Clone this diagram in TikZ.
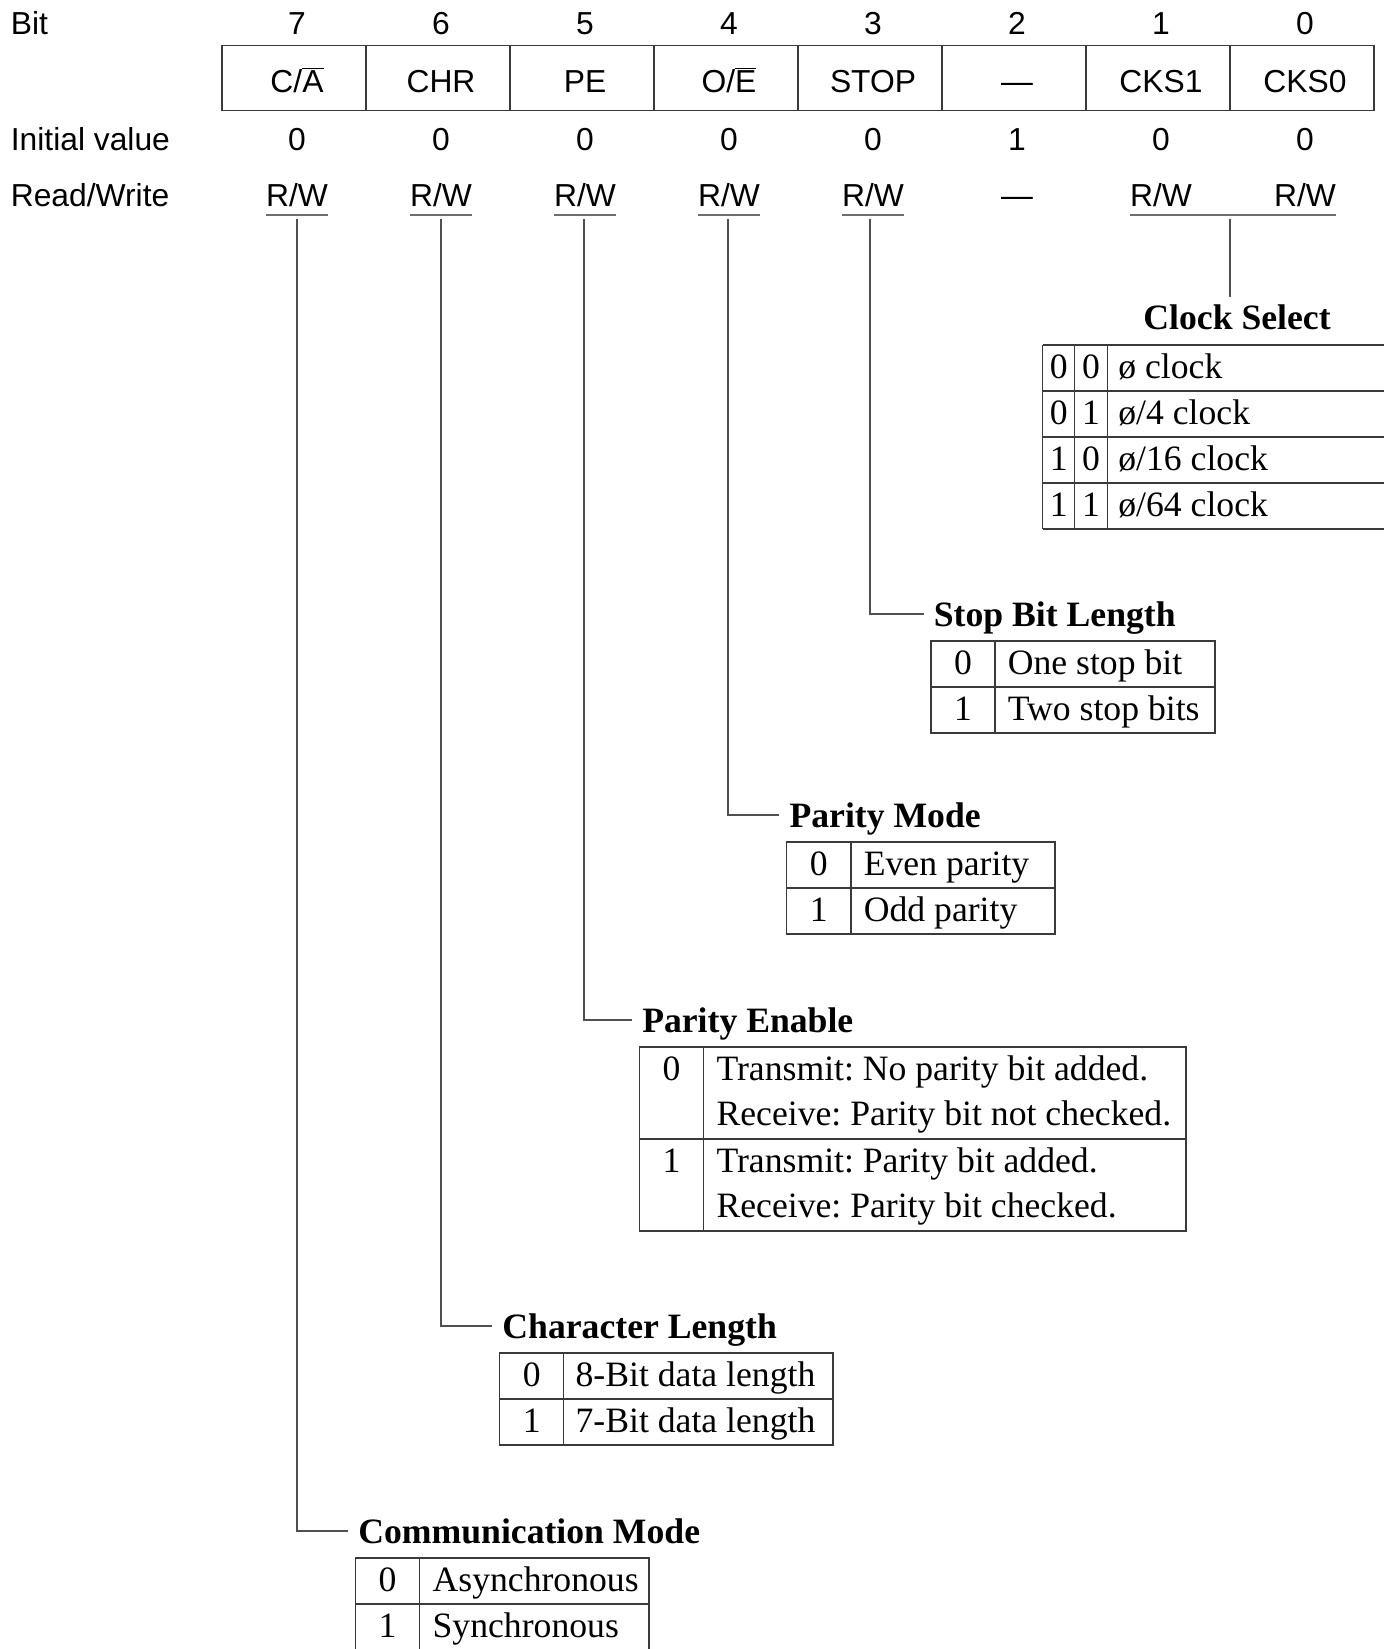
\documentclass[tikz,border=0pt]{standalone}
\usepackage{fontspec}
\setmainfont{Liberation Serif}
\setsansfont{Liberation Sans}
\usetikzlibrary{calc}
\definecolor{RegLine}{HTML}{3A3A3A}
\definecolor{RegUnder}{HTML}{6E6E6E}
\definecolor{RegWire}{HTML}{505050}
\frenchspacing

\tikzset{
  regfont/.style={font=\sffamily\fontsize{18.1}{22}\selectfont,inner sep=0pt},
  regval/.style={regfont,anchor=base},
  rowname/.style={regfont,anchor=base west},
  tabtitle/.style={font=\bfseries\fontsize{20.3}{24}\selectfont,inner xsep=0.2cm,inner ysep=0pt,
    text height=0.5cm,text depth=0pt,anchor=west},
  tabcell/.style={font=\fontsize{20.3}{24}\selectfont,inner sep=0pt,anchor=base},
  tabdesc/.style={tabcell,anchor=base west},
  boxline/.style={RegLine,line width=0.6pt},
  underbar/.style={RegUnder,line width=1pt},
  wire/.style={RegWire,line width=0.6pt},
}

\begin{document}
\begin{tikzpicture}[x=0.02cm,y=-0.02cm]
\path[use as bounding box] (0,0) rectangle (1383,1649);
% register header
\node[rowname] (lbit) at (10.5,34.7) {Bit};
\node[rowname] (linit) at (10.5,150.7) {Initial value};
\node[rowname] (lrw) at (10.5,206.7) {Read/Write};
\node[regval] (b7) at (297,34.7) {7};
\node[regval] (b6) at (441,34.7) {6};
\node[regval] (b5) at (585,34.7) {5};
\node[regval] (b4) at (729,34.7) {4};
\node[regval] (b3) at (873,34.7) {3};
\node[regval] (b2) at (1017,34.7) {2};
\node[regval] (b1) at (1161,34.7) {1};
\node[regval] (b0) at (1305,34.7) {0};
\draw[boxline] (222,45.7) rectangle (1374,110.3);
\draw[boxline] (366,45.7) -- ++(0,64.6) (510,45.7) -- ++(0,64.6) (654,45.7) -- ++(0,64.6)
  (798,45.7) -- ++(0,64.6) (942,45.7) -- ++(0,64.6) (1086,45.7) -- ++(0,64.6) (1230,45.7) -- ++(0,64.6);
\node[regval] (n7) at (297,92.7) {C/$\overline{\mbox{A}}$};
\node[regval] (n6) at (441,92.7) {CHR};
\node[regval] (n5) at (585,92.7) {PE};
\node[regval] (n4) at (729,92.7) {O/$\overline{\mbox{E}}$};
\node[regval] (n3) at (873,92.7) {STOP};
\node[regval] (n2) at (1017,92.7) {—};
\node[regval] (n1) at (1161,92.7) {CKS1};
\node[regval] (n0) at (1305,92.7) {CKS0};
\node[regval] (i7) at (297,150.7) {0};
\node[regval] (i6) at (441,150.7) {0};
\node[regval] (i5) at (585,150.7) {0};
\node[regval] (i4) at (729,150.7) {0};
\node[regval] (i3) at (873,150.7) {0};
\node[regval] (i2) at (1017,150.7) {1};
\node[regval] (i1) at (1161,150.7) {0};
\node[regval] (i0) at (1305,150.7) {0};
\node[regval] (w7) at (297,206.7) {R/W};
\node[regval] (w6) at (441,206.7) {R/W};
\node[regval] (w5) at (585,206.7) {R/W};
\node[regval] (w4) at (729,206.7) {R/W};
\node[regval] (w3) at (873,206.7) {R/W};
\node[regval] (w2) at (1017,206.7) {—};
\node[regval] (w1) at (1161,206.7) {R/W};
\node[regval] (w0) at (1305,206.7) {R/W};
\draw[underbar] ($(w7.base west)+(0,8)$) -- ($(w7.base east)+(0,8)$);
\draw[underbar] ($(w6.base west)+(0,8)$) -- ($(w6.base east)+(0,8)$);
\draw[underbar] ($(w5.base west)+(0,8)$) -- ($(w5.base east)+(0,8)$);
\draw[underbar] ($(w4.base west)+(0,8)$) -- ($(w4.base east)+(0,8)$);
\draw[underbar] ($(w3.base west)+(0,8)$) -- ($(w3.base east)+(0,8)$);
\draw[underbar] ($(w1.base west)+(0,8)$) -- ($(w0.base east)+(0,8)$);
\coordinate (p7) at (297,219.5);
\coordinate (p6) at (441,219.5);
\coordinate (p5) at (584,219.5);
\coordinate (p4) at (728,219.5);
\coordinate (p3) at (870,219.5);
\coordinate (pclk) at (1230,219.5);

% clock select
\node[tabtitle,anchor=center] (tclk) at (1237,317.5) {Clock Select};
\draw[wire] (pclk) -- ($(pclk |- tclk.north)+(0,-8)$);
\draw[boxline] (1042.7,345) -- (1400,345) (1042.7,391) -- (1400,391) (1042.7,437) -- (1400,437)
  (1042.7,483) -- (1400,483) (1042.7,529) -- (1400,529)
  (1042.7,345) -- (1042.7,529) (1074.7,345) -- (1074.7,529) (1107.3,345) -- (1107.3,529);
\node[tabcell] (ca0) at (1058.7,378) {0};
\node[tabcell] (cb0) at (1091,378) {0};
\node[tabdesc] (cd0) at (1118,378) {ø clock};
\node[tabcell] (ca1) at (1058.7,424) {0};
\node[tabcell] (cb1) at (1091,424) {1};
\node[tabdesc] (cd1) at (1118,424) {ø/4 clock};
\node[tabcell] (ca2) at (1058.7,470) {1};
\node[tabcell] (cb2) at (1091,470) {0};
\node[tabdesc] (cd2) at (1118,470) {ø/16 clock};
\node[tabcell] (ca3) at (1058.7,516) {1};
\node[tabcell] (cb3) at (1091,516) {1};
\node[tabdesc] (cd3) at (1118,516) {ø/64 clock};

% stop bit length
\node[tabtitle] (tstop) at (923.5,614) {Stop Bit Length};
\draw[wire] (p3) |- (tstop);
\draw[boxline] (931,641) rectangle (1215,733);
\draw[boxline] (931,687) -- (1215,687) (995,641) -- (995,733);
\node[tabcell] (s0) at (963,674) {0};
\node[tabdesc] (s0d) at (1007.5,674) {One stop bit};
\node[tabcell] (s1) at (963,720) {1};
\node[tabdesc] (s1d) at (1007.5,720) {Two stop bits};

% parity mode
\node[tabtitle] (tpmode) at (779.2,815) {Parity Mode};
\draw[wire] (p4) |- (tpmode);
\draw[boxline] (786.7,842) rectangle (1055,934);
\draw[boxline] (786.7,888) -- (1055,888) (851,842) -- (851,934);
\node[tabcell] (m0) at (818.9,875) {0};
\node[tabdesc] (m0d) at (863.5,875) {Even parity};
\node[tabcell] (m1) at (818.9,921) {1};
\node[tabdesc] (m1d) at (863.5,921) {Odd parity};

% parity enable
\node[tabtitle] (tpen) at (631.9,1020) {Parity Enable};
\draw[wire] (p5) |- (tpen);
\draw[boxline] (639.4,1047) rectangle (1186,1231);
\draw[boxline] (639.4,1139) -- (1186,1139) (703.6,1047) -- (703.6,1231);
\node[tabcell] (e0) at (671.5,1080) {0};
\node[tabdesc] (e0a) at (716.2,1080) {Transmit: No parity bit added.};
\node[tabdesc] (e0b) at (716.2,1125) {Receive: Parity bit not checked.};
\node[tabcell] (e1) at (671.5,1172) {1};
\node[tabdesc] (e1a) at (716.2,1172) {Transmit: Parity bit added.};
\node[tabdesc] (e1b) at (716.2,1217) {Receive: Parity bit checked.};

% character length
\node[tabtitle] (tchr) at (492.1,1326) {Character Length};
\draw[wire] (p6) |- (tchr);
\draw[boxline] (499.6,1353) rectangle (833,1445);
\draw[boxline] (499.6,1399) -- (833,1399) (563.7,1353) -- (563.7,1445);
\node[tabcell] (h0) at (531.7,1386) {0};
\node[tabdesc] (h0d) at (575.3,1386) {8-Bit data length};
\node[tabcell] (h1) at (531.7,1432) {1};
\node[tabdesc] (h1d) at (575.3,1432) {7-Bit data length};

% communication mode
\node[tabtitle] (tcomm) at (348,1531) {Communication Mode};
\draw[wire] (p7) |- (tcomm);
\draw[boxline] (355.5,1670) -- (355.5,1558) -- (649,1558) -- (649,1670);
\draw[boxline] (355.5,1604) -- (649,1604) (419.6,1558) -- (419.6,1670);
\node[tabcell] (a0) at (387.5,1591) {0};
\node[tabdesc] (a0d) at (432.3,1591) {Asynchronous};
\node[tabcell] (a1) at (387.5,1637) {1};
\node[tabdesc] (a1d) at (432.3,1637) {Synchronous};
\end{tikzpicture}
\end{document}
